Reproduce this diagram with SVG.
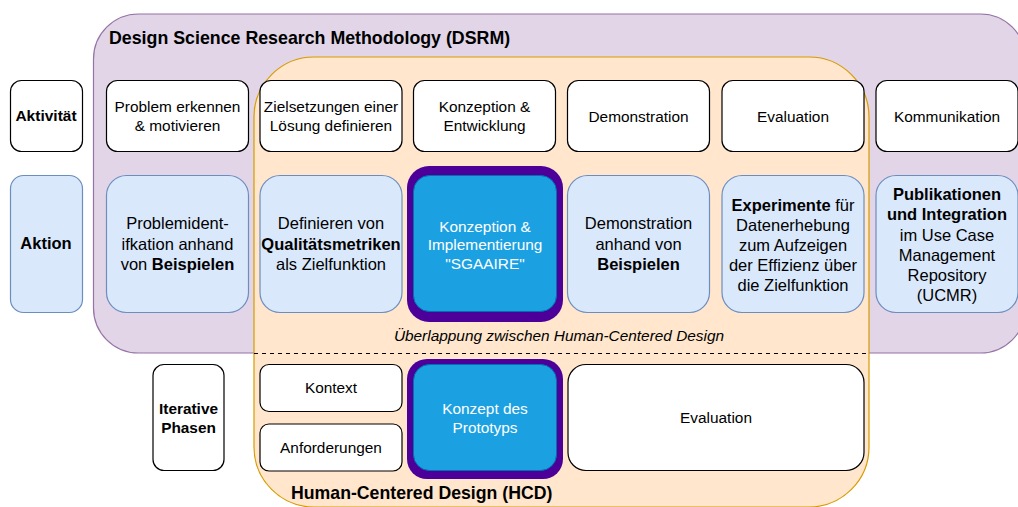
<svg xmlns="http://www.w3.org/2000/svg" width="1018" height="507" viewBox="0 0 1018 507">
<style>
text{font-family:"Liberation Sans",Arial,sans-serif;fill:#000;}
.c{text-anchor:middle;}
.b{font-weight:bold;}
.w{fill:#fff;}
.act{fill:#fff;stroke:#000;stroke-width:1.2;}
.blue{fill:#dae8fc;stroke:#6c8ebf;stroke-width:1.2;}
.hl{fill:#4c0099;}
.core{fill:#1ba1e2;stroke:#006eaf;stroke-width:1;}
.f15{font-size:15.4px;}
.f16{font-size:16.5px;}
</style>
<rect width="1018" height="507" fill="#fff"/>
<g id="dsrm">
<rect x="93.5" y="14" width="932" height="339" rx="45" fill="#e1d5e7" stroke="#9673a6" stroke-width="1.2"/>
<text x="109" y="43.5" class="b" style="font-size:17.8px">Design Science Research Methodology (DSRM)</text>
</g>
<g id="hcd">
<rect x="254" y="57" width="615" height="450" rx="60" fill="#ffe6cc" stroke="#d79b00" stroke-width="1.2"/>
<text x="291" y="499" class="b" style="font-size:17.7px">Human-Centered Design (HCD)</text>
</g>
<g id="overlap">
<text x="559" y="340.5" class="c f15" font-style="italic">Überlappung zwischen Human-Centered Design</text>
</g>
<g id="connectors">
<line x1="254" y1="353.5" x2="869" y2="353.5" stroke="#000" stroke-width="1" stroke-dasharray="4 4"/>
</g>
<g id="aktivitaet">
<rect x="10.5" y="80.5" width="72" height="71" rx="11" class="act"/>
<text x="46" y="120.5" class="c b" style="font-size:15.5px">Aktivität</text>
</g>
<g id="a1">
<rect x="106.5" y="80.5" width="142" height="71" rx="11" class="act"/>
<text x="177.5" y="112" class="c f15">Problem erkennen</text>
<text x="177.5" y="131" class="c f15">&amp; motivieren</text>
</g>
<g id="a2">
<rect x="260" y="80.5" width="142" height="71" rx="11" class="act"/>
<text x="331" y="112" class="c f15">Zielsetzungen einer</text>
<text x="331" y="131" class="c f15">Lösung definieren</text>
</g>
<g id="a3">
<rect x="413.5" y="80.5" width="142" height="71" rx="11" class="act"/>
<text x="484.5" y="112" class="c f15">Konzeption &amp;</text>
<text x="484.5" y="131" class="c f15">Entwicklung</text>
</g>
<g id="a4">
<rect x="567.5" y="80.5" width="142" height="71" rx="11" class="act"/>
<text x="638.5" y="121.5" class="c f15">Demonstration</text>
</g>
<g id="a5">
<rect x="722" y="80.5" width="142" height="71" rx="11" class="act"/>
<text x="793" y="121.5" class="c f15">Evaluation</text>
</g>
<g id="a6">
<rect x="876" y="80.5" width="142" height="71" rx="11" class="act"/>
<text x="947" y="121.5" class="c f15">Kommunikation</text>
</g>
<g id="aktion">
<rect x="10.5" y="175.5" width="72" height="137" rx="13" class="blue"/>
<text x="46" y="249" class="c b f16">Aktion</text>
</g>
<g id="b1">
<rect x="106.5" y="175.5" width="142" height="137" rx="20" class="blue"/>
<text x="177.5" y="229" class="c f16">Problemident-</text>
<text x="177.5" y="249.5" class="c f16">ifkation anhand</text>
<text x="177.5" y="270" class="c f16">von <tspan class="b">Beispielen</tspan></text>
</g>
<g id="b2">
<rect x="260" y="175.5" width="142" height="137" rx="20" class="blue"/>
<text x="331" y="229" class="c f16">Definieren von</text>
<text x="331" y="249.5" class="c f16 b">Qualitätsmetriken</text>
<text x="331" y="270" class="c f16">als Zielfunktion</text>
</g>
<g id="b3">
<rect x="407" y="166" width="156" height="156" rx="22" class="hl"/>
<rect x="413.5" y="175.5" width="143" height="136" rx="16" class="core"/>
<text x="485" y="231.5" class="c f15 w">Konzeption &amp;</text>
<text x="485" y="250" class="c f15 w">Implementierung</text>
<text x="485" y="268.5" class="c f15 w">"SGAAIRE"</text>
</g>
<g id="b4">
<rect x="567.5" y="175.5" width="142" height="137" rx="20" class="blue"/>
<text x="638.5" y="229" class="c f16">Demonstration</text>
<text x="638.5" y="249.5" class="c f16">anhand von</text>
<text x="638.5" y="270" class="c f16 b">Beispielen</text>
</g>
<g id="b5">
<rect x="722" y="175.5" width="142" height="137" rx="20" class="blue"/>
<text x="793" y="211" class="c f16"><tspan class="b">Experimente</tspan> für</text>
<text x="793" y="231" class="c f16">Datenerhebung</text>
<text x="793" y="251" class="c f16">zum Aufzeigen</text>
<text x="793" y="270.5" class="c f16">der Effizienz über</text>
<text x="793" y="290.5" class="c f16">die Zielfunktion</text>
</g>
<g id="b6">
<rect x="876" y="175.5" width="142" height="137" rx="20" class="blue"/>
<text x="947" y="200" class="c f16 b">Publikationen</text>
<text x="947" y="220" class="c f16 b">und Integration</text>
<text x="947" y="240.5" class="c f16">im Use Case</text>
<text x="947" y="260.5" class="c f16">Management</text>
<text x="947" y="280.5" class="c f16">Repository</text>
<text x="947" y="300.5" class="c f16">(UCMR)</text>
</g>
<g id="phasen">
<rect x="153" y="364.5" width="71" height="106" rx="11" class="act"/>
<text x="188.5" y="414" class="c b f15">Iterative</text>
<text x="188.5" y="433" class="c b f15">Phasen</text>
</g>
<g id="kontext">
<rect x="260" y="364.5" width="142" height="47" rx="9" class="act"/>
<text x="331" y="393" class="c f15">Kontext</text>
</g>
<g id="anforderungen">
<rect x="260" y="424" width="142" height="47" rx="9" class="act"/>
<text x="331" y="452.5" class="c f15">Anforderungen</text>
</g>
<g id="prototyp">
<rect x="407" y="359" width="156" height="120" rx="20" class="hl"/>
<rect x="413.5" y="364.5" width="143" height="106" rx="16" class="core"/>
<text x="485" y="414" class="c f15 w">Konzept des</text>
<text x="485" y="432.5" class="c f15 w">Prototyps</text>
</g>
<g id="evaluation">
<rect x="568" y="364.5" width="296" height="106" rx="18" class="act"/>
<text x="716" y="423" class="c f15">Evaluation</text>
</g>
</svg>
